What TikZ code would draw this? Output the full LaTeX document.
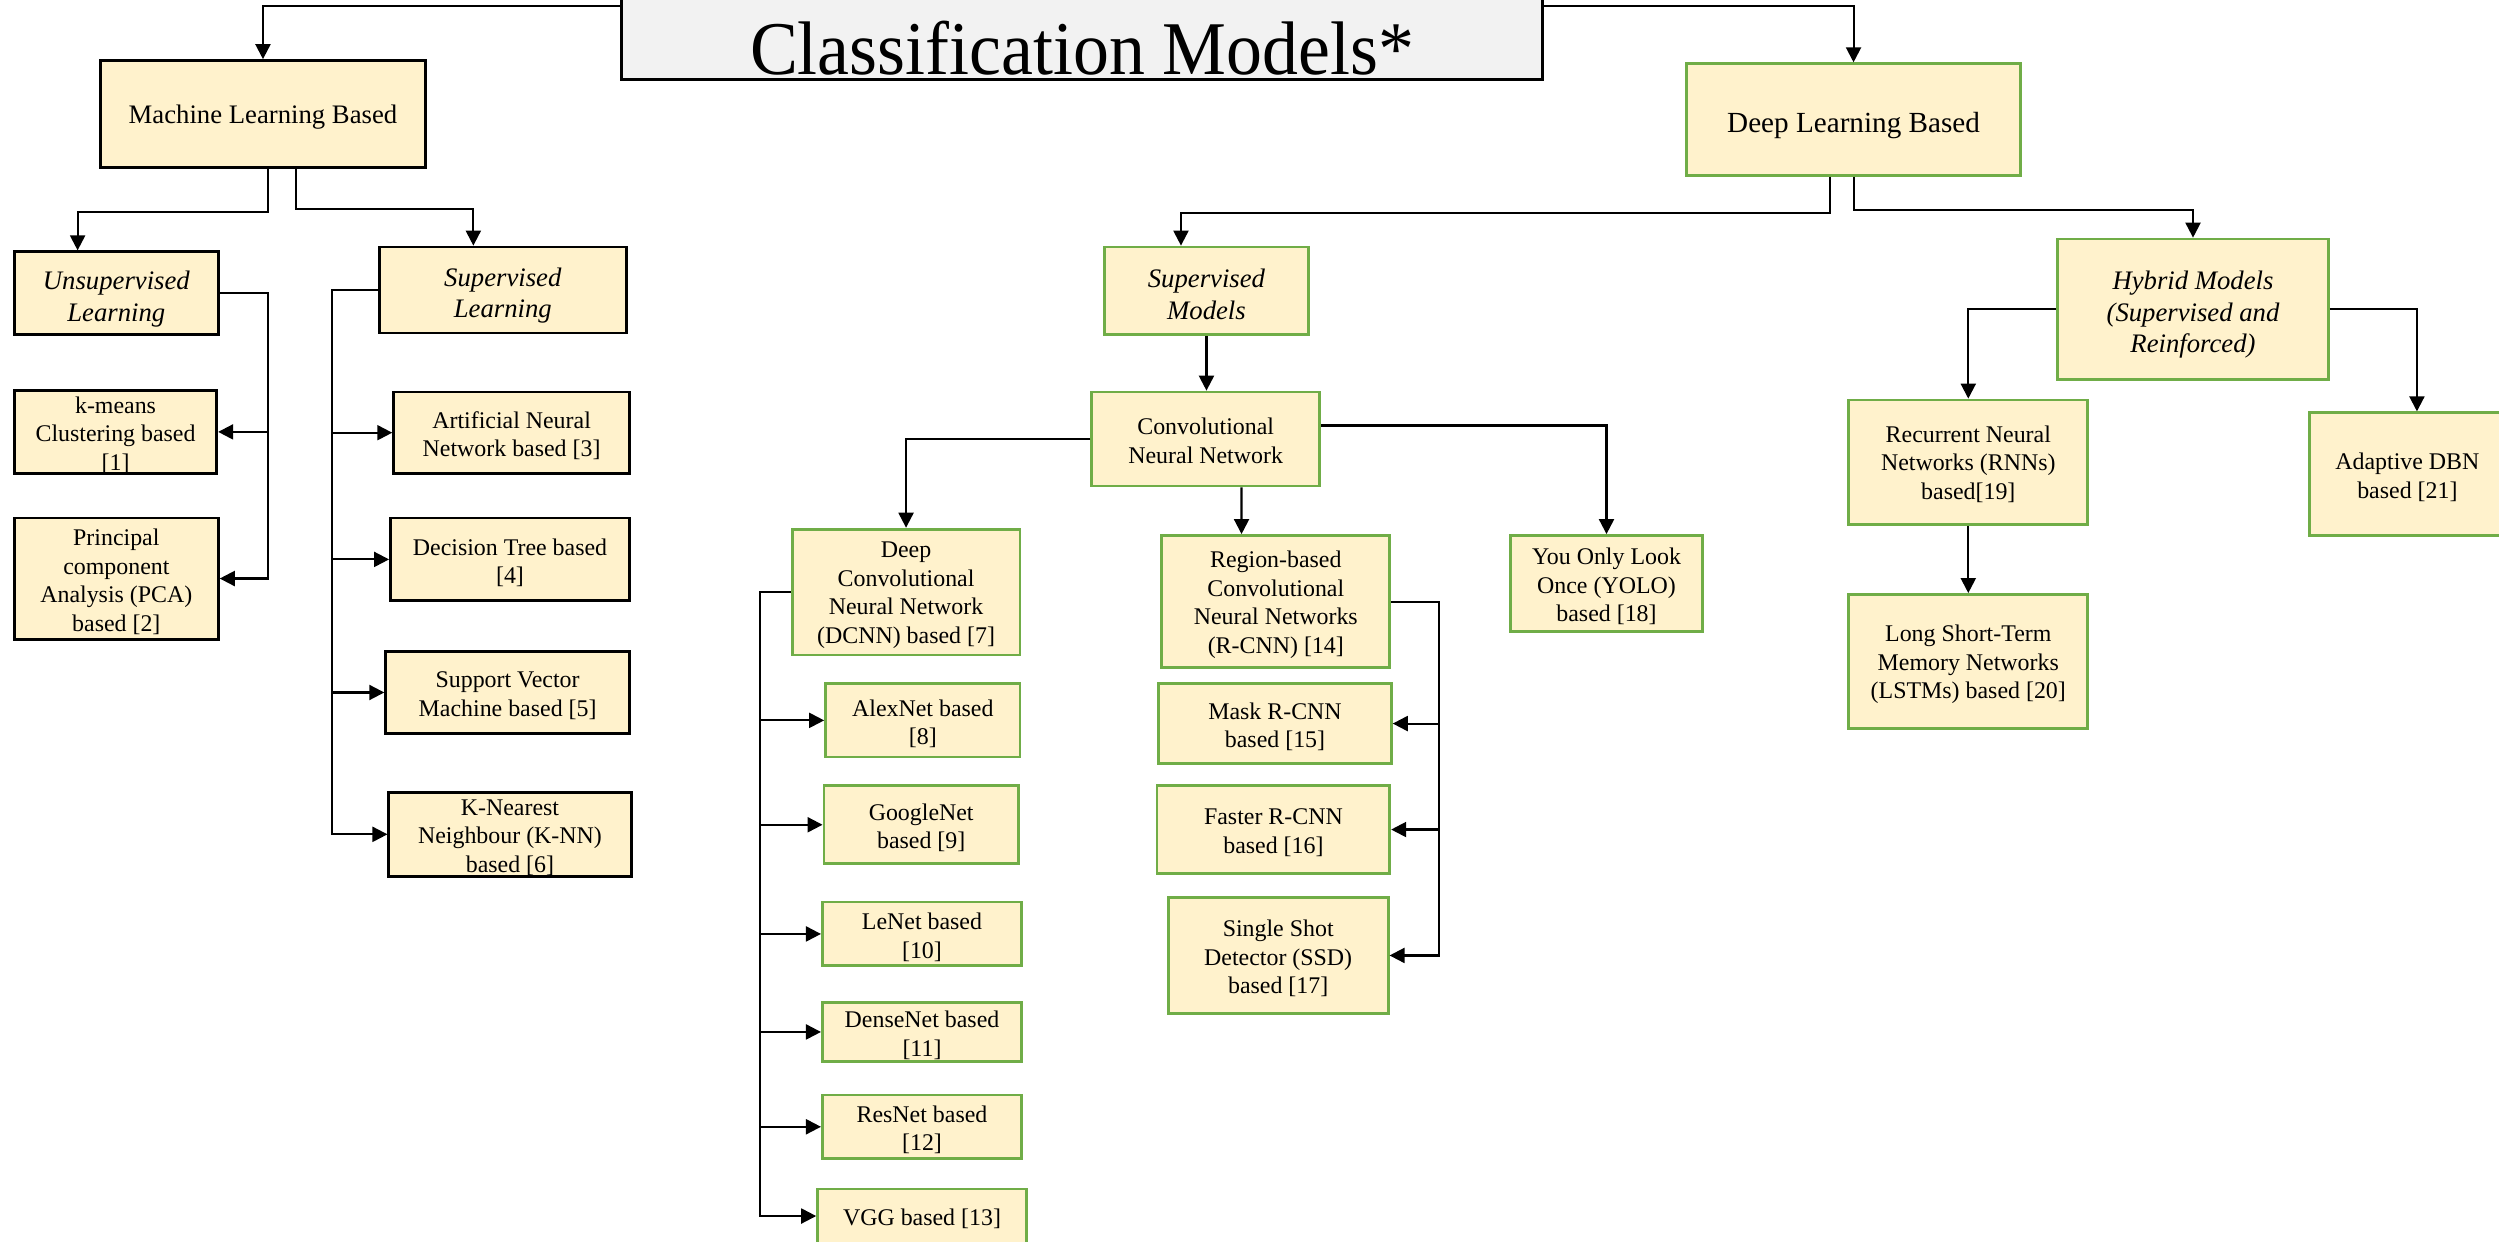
\documentclass[tikz,border=0pt]{standalone}
\usepackage{fontspec}
\setmainfont{Liberation Serif}
\usetikzlibrary{arrows.meta,calc}
\definecolor{boxfill}{HTML}{FFF2CC}
\definecolor{dlgreen}{HTML}{70AD47}
\definecolor{titlefill}{HTML}{F2F2F2}

% box from its corners (x1,y1) to (x2,y2), y growing downwards, with its text
\newcommand\bx[8]{%
  \node[#6, minimum width={(#4-#2)*0.1594mm}, minimum height={(#5-#3)*0.1594mm}] (#1) at ({(#2+#4)/2},{(#3+#5)/2}) {};
  \node[#7] (#1-t) at (#1.center) {#8};}

\tikzset{
  mlbox/.style={draw=black, line width=0.8pt, fill=boxfill, inner sep=0pt},
  dlbox/.style={mlbox, draw=dlgreen},
  txt/.style={align=center, inner sep=0pt, yshift=-0.32mm, font=\fontsize{6.8}{8.1}\selectfont},
  headtxt/.style={txt, yshift=-0.25mm, font=\fontsize{7.6}{9}\selectfont\itshape},
  titlebox/.style={draw=black, line width=0.8pt, fill=titlefill},
  arr/.style={line width=0.6pt, -{Triangle[length=1.5mm,width=1.5mm]}},
}

\begin{document}
\begin{tikzpicture}[x=0.1594mm, y=-0.1594mm]
\useasboundingbox (0,0) rectangle (1568,779);
\fill[white] (0,0) rectangle (1568,779);
\clip (0,0) rectangle (1568,779);

% title
\node[titlebox, minimum width={578*0.1594mm}, minimum height={93*0.1594mm}] (title) at (679,3.5) {};
\node[font=\fontsize{21.6}{26}\selectfont, anchor=base] (titletext) at (679,47) {\scalebox{0.946}[1]{Classification Models*}};

% machine learning branch
\bx{ml}{63}{38}{267}{105}{mlbox}{txt, font=\fontsize{7.6}{9}\selectfont}{Machine Learning Based}
\bx{unsup}{9}{158}{137}{210}{mlbox}{headtxt}{Unsupervised\\Learning}
\bx{sup}{238}{155}{393}{209}{mlbox}{headtxt}{Supervised\\Learning}
\bx{km}{9}{245}{136}{297}{mlbox}{txt}{k-means\\Clustering based\\{[1]}}
\bx{pca}{9}{325}{137}{401}{mlbox}{txt}{Principal\\component\\Analysis (PCA)\\based [2]}
\bx{ann}{247}{246}{395}{297}{mlbox}{txt}{Artificial Neural\\Network based [3]}
\bx{dt}{245}{325}{395}{377}{mlbox}{txt}{Decision Tree based\\{[4]}}
\bx{svm}{242}{409}{395}{460}{mlbox}{txt}{Support Vector\\Machine based [5]}
\bx{knn}{244}{497}{396}{550}{mlbox}{txt}{K-Nearest\\Neighbour (K-NN)\\based [6]}

% deep learning branch
\bx{dl}{1058}{40}{1268}{110}{dlbox}{txt, yshift=-0.3mm, font=\fontsize{8.3}{10}\selectfont}{Deep Learning Based}
\bx{sm}{693}{155}{821}{210}{dlbox}{headtxt, yshift=0.2mm}{Supervised\\Models}
\bx{hyb}{1291}{150}{1461}{238}{dlbox}{headtxt}{Hybrid Models\\(Supervised and\\Reinforced)}
\bx{cnn}{685}{246}{828}{305}{dlbox}{txt, yshift=0.15mm}{Convolutional\\Neural Network}
\bx{dcnn}{497}{332}{640}{411}{dlbox}{txt}{Deep\\Convolutional\\Neural Network\\(DCNN) based [7]}
\bx{rcnn}{729}{336}{872}{419}{dlbox}{txt}{Region-based\\Convolutional\\Neural Networks\\(R-CNN) [14]}
\bx{yolo}{948}{336}{1068}{396}{dlbox}{txt}{You Only Look\\Once (YOLO)\\based [18]}
\bx{alex}{518}{429}{640}{475}{dlbox}{txt}{AlexNet based\\{[8]}}
\bx{goog}{517}{493}{639}{542}{dlbox}{txt}{GoogleNet\\based [9]}
\bx{lenet}{516}{566}{641}{606}{dlbox}{txt}{LeNet based\\{[10]}}
\bx{dense}{516}{629}{641}{666}{dlbox}{txt}{DenseNet based\\{[11]}}
\bx{res}{516}{687}{641}{727}{dlbox}{txt}{ResNet based\\{[12]}}
\bx{vgg}{513}{746}{644}{780}{dlbox}{txt}{VGG based [13]}
\bx{mask}{727}{429}{873}{479}{dlbox}{txt}{Mask R-CNN\\based [15]}
\bx{fast}{726}{493}{872}{548}{dlbox}{txt}{Faster R-CNN\\based [16]}
\bx{ssd}{733}{563}{871}{636}{dlbox}{txt}{Single Shot\\Detector (SSD)\\based [17]}
\bx{rnn}{1160}{251}{1310}{329}{dlbox}{txt, yshift=0.15mm}{Recurrent Neural\\Networks (RNNs)\\based[19]}
\bx{lstm}{1160}{373}{1310}{457}{dlbox}{txt}{Long Short-Term\\Memory Networks\\(LSTMs) based [20]}
\bx{adbn}{1449}{259}{1572}{336}{dlbox}{txt}{Adaptive DBN\\based [21]}

% connectors
\draw[arr] (title.west) -| (ml.north);
\draw[arr] (title.east) -| (dl.north);

\draw[arr] ($(ml.south)+(3,0)$) -- ++(0,27) -| ($(unsup.north)+(-24.3,0)$);
\draw[arr] ($(ml.south)+(21,0)$) -- ++(0,25) -| ($(sup.north)+(-18.5,0)$);
\foreach \t in {km,pca} \draw[arr] (unsup.east) -- ++(30,0) |- (\t.east);
\foreach \t in {ann,dt,svm,knn} \draw[arr] (sup.west) -- ++(-29,0) |- (\t.west);

\draw[arr] ($(dl.south)+(-15,0)$) -- ++(0,23) -| ($(sm.north)+(-16,0)$);
\draw[arr] (dl.south) -- ++(0,21) -| (hyb.north);
\draw[arr] (sm.south) -- (sm.south |- cnn.north);
\draw[arr] (cnn.west) -| (dcnn.north);
\draw[arr] ($(cnn.south)+(22.5,0)$) -- ($(rcnn.north)+(-21.5,0)$);
\draw[arr] ($(cnn.east)+(0,-8.5)$) -| (yolo.north);
\foreach \t in {alex,goog,lenet,dense,res,vgg} \draw[arr] (dcnn.west) -- ++(-19,0) |- (\t.west);
\foreach \t in {mask,fast,ssd} \draw[arr] (rcnn.east) -- ++(30,0) |- (\t.east);
\draw[arr] (hyb.west) -| (rnn.north);
\draw[arr] (hyb.east) -| ($(adbn.north)+(6,0)$);
\draw[arr] (rnn.south) -- (lstm.north);
\end{tikzpicture}
\end{document}
